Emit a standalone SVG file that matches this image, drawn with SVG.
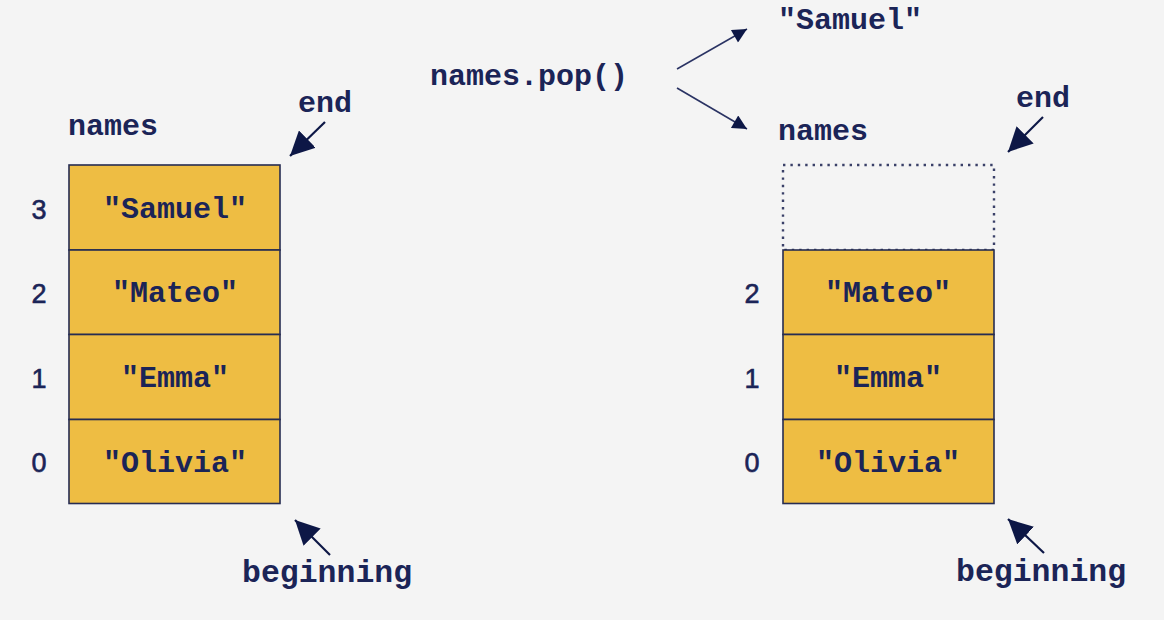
<svg xmlns="http://www.w3.org/2000/svg" width="1164" height="620" viewBox="0 0 1164 620">
<style>
.code{font-family:"Liberation Mono","Courier New",monospace;font-weight:bold;font-size:30px;fill:#1b2457}
.lg{font-size:31.5px}
.mid{text-anchor:middle}
.idx{font-family:"Liberation Sans",Arial,sans-serif;font-size:27px;fill:#1b2457;stroke:#1b2457;stroke-width:0.6;text-anchor:middle}
.cell{fill:#eebd43;stroke:#262c52;stroke-width:1.6}
.dot{fill:none;stroke:#3a4068;stroke-width:2.4;stroke-dasharray:2.4 5}
.big{stroke:#0d1746;stroke-width:2.2;fill:none;marker-end:url(#ah)}
.thin{stroke:#2a3363;stroke-width:1.6;fill:none;marker-end:url(#ahs)}
</style>
<defs>
<marker id="ah" viewBox="0 0 10 10" refX="10" refY="5" markerWidth="11" markerHeight="11" markerUnits="strokeWidth" orient="auto">
<path d="M0,0 L10,5 L0,10 Z" fill="#0d1746"/>
</marker>
<marker id="ahs" viewBox="0 0 10 10" refX="10" refY="5" markerWidth="10" markerHeight="9" markerUnits="strokeWidth" orient="auto">
<path d="M0,0 L10,5 L0,10 Z" fill="#0d1746"/>
</marker>
</defs>
<rect width="1164" height="620" fill="#f4f4f4"/>

<g id="left-array">
<text class="code" x="68" y="135">names</text>
<rect class="cell" x="69" y="165" width="211" height="85"/>
<rect class="cell" x="69" y="250" width="211" height="84.5"/>
<rect class="cell" x="69" y="334.5" width="211" height="85"/>
<rect class="cell" x="69" y="419.5" width="211" height="84"/>
<text class="code mid" x="175" y="218">"Samuel"</text>
<text class="code mid" x="175" y="302">"Mateo"</text>
<text class="code mid" x="175" y="387">"Emma"</text>
<text class="code mid" x="175" y="472">"Olivia"</text>
<text class="idx" x="39" y="219">3</text>
<text class="idx" x="39" y="303">2</text>
<text class="idx" x="39" y="388">1</text>
<text class="idx" x="39" y="472">0</text>
<text class="code" x="298" y="112">end</text>
<text class="code lg" x="242" y="582">beginning</text>
</g>

<g id="pop-call">
<text class="code" x="430" y="85">names.pop()</text>
<text class="code" x="778" y="29">"Samuel"</text>
</g>

<g id="right-array">
<text class="code" x="778" y="140">names</text>
<rect class="dot" x="783" y="165" width="211" height="85"/>
<rect class="cell" x="783" y="250" width="211" height="84.5"/>
<rect class="cell" x="783" y="334.5" width="211" height="85"/>
<rect class="cell" x="783" y="419.5" width="211" height="84"/>
<text class="code mid" x="888" y="302">"Mateo"</text>
<text class="code mid" x="888" y="387">"Emma"</text>
<text class="code mid" x="888" y="472">"Olivia"</text>
<text class="idx" x="752" y="303">2</text>
<text class="idx" x="752" y="388">1</text>
<text class="idx" x="752" y="472">0</text>
<text class="code" x="1016" y="107">end</text>
<text class="code lg" x="956" y="581">beginning</text>
</g>

<g id="connectors">
<line class="big" x1="325" y1="122" x2="290" y2="156"/>
<line class="big" x1="330" y1="555" x2="295" y2="520"/>
<line class="big" x1="1043" y1="117" x2="1008" y2="152"/>
<line class="big" x1="1044" y1="553" x2="1008" y2="519"/>
<line class="thin" x1="677" y1="69" x2="747" y2="29"/>
<line class="thin" x1="677" y1="88" x2="747" y2="129"/>
</g>
</svg>
